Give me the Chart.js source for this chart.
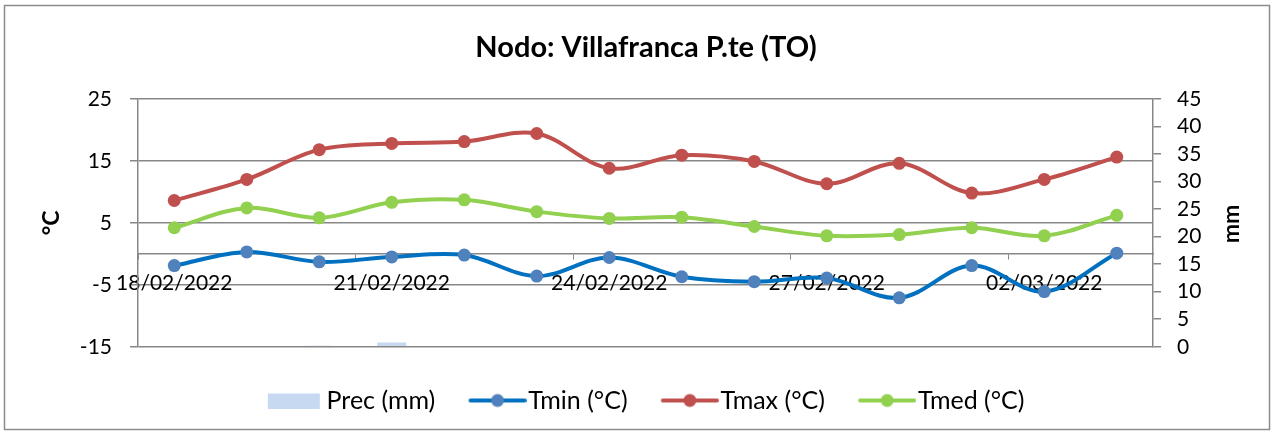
<!DOCTYPE html>
<html>
<head>
<meta charset="utf-8">
<script src="https://cdn.jsdelivr.net/npm/chart.js@4"></script>
<style>
  html, body { margin: 0; background: #fff; }
  #wrap { width: 1274px; height: 434px; }
</style>
</head>
<body>
<div id="wrap"><canvas id="c"></canvas></div>
<script>
const days = ["18/02/2022", "19/02/2022", "20/02/2022", "21/02/2022", "22/02/2022", "23/02/2022", "24/02/2022",
  "25/02/2022", "26/02/2022", "27/02/2022", "28/02/2022", "01/03/2022", "02/03/2022", "03/03/2022"];
const prec = [0, 0, 0.2, 0.8, 0, 0, 0, 0, 0, 0, 0, 0, 0, 0];
const tmin = [-1.9, 0.3, -1.3, -0.5, -0.2, -3.6, -0.6, -3.7, -4.5, -3.9, -7.1, -1.9, -6.1, 0.1];
const tmax = [8.6, 12.0, 16.8, 17.8, 18.1, 19.4, 13.8, 15.9, 14.9, 11.3, 14.6, 9.8, 12.0, 15.6];
const tmed = [4.2, 7.4, 5.8, 8.3, 8.7, 6.8, 5.7, 5.9, 4.4, 2.9, 3.1, 4.2, 2.9, 6.2];
const tempTicks = [-15, -5, 5, 15, 25];
const mmTicks = [0, 5, 10, 15, 20, 25, 30, 35, 40, 45];

const GRID = "#878787";
const FONT = "Lato";

Chart.defaults.font.family = FONT;
Chart.defaults.color = "#000";

// legend markers: a line with a dot, or a flat box for the bars
function marker(line, dot, isBox) {
  const c = document.createElement("canvas");
  c.width = 68; c.height = 16;
  const g = c.getContext("2d");
  if (isBox) {
    g.fillStyle = line;
    g.fillRect(11, 1, 52, 15);
  } else {
    g.strokeStyle = line; g.lineWidth = 4; g.lineCap = "round";
    g.beginPath(); g.moveTo(12, 8); g.lineTo(66, 8); g.stroke();
    g.fillStyle = dot;
    g.beginPath(); g.arc(39, 8, 6.5, 0, Math.PI * 2); g.fill();
  }
  return c;
}

const frame = {
  id: "frame",
  beforeDraw(chart) {
    const ctx = chart.ctx;
    ctx.save();
    ctx.fillStyle = "#fff";
    ctx.fillRect(0, 0, chart.width, chart.height);
    ctx.strokeStyle = "#8c8c8c";
    ctx.lineWidth = 1.5;
    ctx.strokeRect(4.5, 5.5, 1265, 424);
    ctx.restore();
  },
  afterDraw(chart) {
    // right axis title, turned the same way as the left one
    const ctx = chart.ctx;
    ctx.save();
    ctx.translate(1232, 224);
    ctx.rotate(-Math.PI / 2);
    ctx.font = "bold 23px " + FONT;
    ctx.textAlign = "center";
    ctx.textBaseline = "middle";
    ctx.fillStyle = "#000";
    ctx.fillText("mm", 0, 0);
    ctx.restore();
  }
};

new Chart(document.getElementById("c"), {
  type: "bar",
  data: {
    labels: days,
    datasets: [
      {
        type: "bar", label: "Prec (mm)", data: prec, yAxisID: "y1",
        backgroundColor: "#c6d9f1", barPercentage: 0.4, categoryPercentage: 1,
        markerImg: marker("#c6d9f1", null, true)
      },
      {
        type: "line", label: "Tmin (°C)", data: tmin, yAxisID: "y",
        borderColor: "#0070c0", backgroundColor: "#4f81bd", borderWidth: 4,
        pointRadius: 6.5, pointBackgroundColor: "#4f81bd", pointBorderWidth: 0, tension: 0.35,
        markerImg: marker("#0070c0", "#4f81bd")
      },
      {
        type: "line", label: "Tmax (°C)", data: tmax, yAxisID: "y",
        borderColor: "#c0504d", backgroundColor: "#c0504d", borderWidth: 4,
        pointRadius: 6.5, pointBackgroundColor: "#c0504d", pointBorderWidth: 0, tension: 0.35,
        markerImg: marker("#c0504d", "#c0504d")
      },
      {
        type: "line", label: "Tmed (°C)", data: tmed, yAxisID: "y",
        borderColor: "#92d050", backgroundColor: "#92d050", borderWidth: 4,
        pointRadius: 6.5, pointBackgroundColor: "#92d050", pointBorderWidth: 0, tension: 0.35,
        markerImg: marker("#92d050", "#92d050")
      }
    ]
  },
  options: {
    responsive: true,
    maintainAspectRatio: false,
    animation: false,
    layout: { padding: { left: 28, right: 10, top: 0, bottom: 11 } },
    plugins: {
      title: {
        display: true,
        text: "Nodo: Villafranca P.te (TO)",
        font: { size: 29, weight: "bold" },
        color: "#000",
        padding: { top: 30, bottom: 34 }
      },
      legend: {
        position: "bottom",
        title: { display: true, text: " ", font: { size: 6 }, padding: 0 },
        labels: {
          usePointStyle: true,
          pointStyleWidth: 46.5,
          padding: 34,
          font: { size: 25 },
          generateLabels(chart) {
            const items = Chart.defaults.plugins.legend.labels.generateLabels(chart);
            items.forEach(it => { it.pointStyle = chart.data.datasets[it.datasetIndex].markerImg; });
            return items;
          }
        }
      },
      tooltip: { enabled: false }
    },
    scales: {
      x: {
        type: "category",
        position: { y: 0 },
        offset: true,
        z: 1,
        grid: {
          display: true, drawOnChartArea: false, tickLength: 5, offset: true,
          color: ctx => (ctx.index % 3 === 0 ? GRID : "rgba(0,0,0,0)")
        },
        border: { display: true, color: GRID, width: 1.5 },
        ticks: {
          autoSkip: false, maxRotation: 0, padding: 12,
          font: { size: 21 },
          callback: (v, i) => (i % 3 === 0 ? days[i] : "")
        }
      },
      y: {
        position: "left",
        min: -15, max: 25,
        afterBuildTicks: s => { s.ticks = tempTicks.map(v => ({ value: v })); },
        afterFit: s => { s.width = 138 - 28; },
        grid: { color: GRID, lineWidth: 1.5, tickLength: 8 },
        border: { display: true, color: GRID, width: 1.5 },
        ticks: { autoSkip: false, padding: 18, font: { size: 21 } },
        title: {
          display: true, text: "°C",
          font: { size: 23, weight: "bold" },
          padding: { top: 10, bottom: 0 }
        }
      },
      y1: {
        position: "right",
        min: 0, max: 45,
        afterBuildTicks: s => { s.ticks = mmTicks.map(v => ({ value: v })); },
        afterFit: s => { s.width = 1274 - 1153 - 10; },
        grid: { drawOnChartArea: false, color: GRID, lineWidth: 1.5, tickLength: 8 },
        border: { display: true, color: GRID, width: 1.5 },
        ticks: { autoSkip: false, padding: 16, font: { size: 21 } }
      }
    }
  },
  plugins: [frame]
});
</script>
</body>
</html>
